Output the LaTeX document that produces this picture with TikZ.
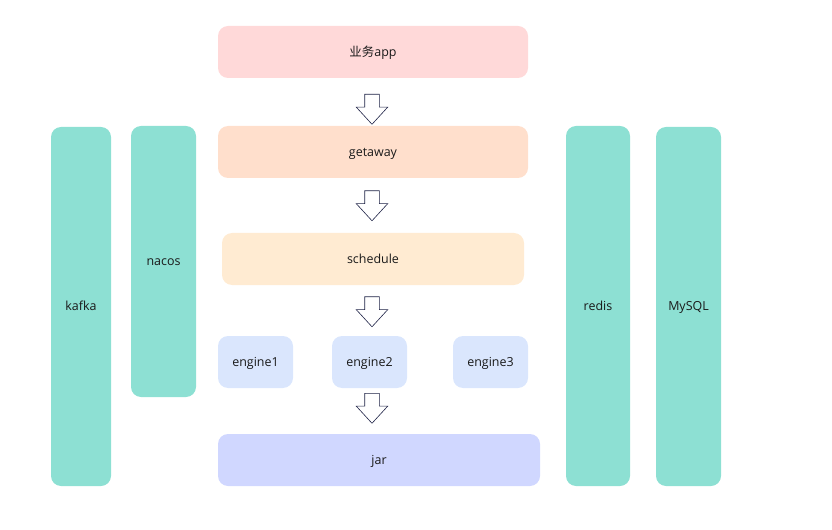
\documentclass[tikz,border=0pt]{standalone}
\usepackage{fontspec}
\setmainfont{Open Sans}
\newfontfamily\cjk{Noto Sans CJK SC}
\usepackage{tikz}
\usetikzlibrary{shapes.arrows}
\definecolor{apppink}{HTML}{FFD9D9}
\definecolor{gatepeach}{HTML}{FFDFCC}
\definecolor{schedcream}{HTML}{FFEBD2}
\definecolor{engineblue}{HTML}{DAE6FD}
\definecolor{jarblue}{HTML}{D0D7FF}
\definecolor{infrateal}{HTML}{8DE0D3}
\definecolor{arrowline}{HTML}{1E2246}
\definecolor{labeltext}{HTML}{1A1A1A}
\tikzset{
  box/.style={rounded corners=10bp, inner sep=0pt, text=labeltext,
    font=\fontsize{12.5}{14}\selectfont, text height=1.6ex, text depth=0pt},
  infra/.style={box, fill=infrateal, minimum width=#1},
  down/.style={single arrow, draw=arrowline, fill=white, line width=0.6pt,
    shape border rotate=270, inner sep=7bp, minimum width=31bp,
    minimum height=30bp, single arrow head extend=8.5bp,
    single arrow tip angle=85, anchor=tail},
}
\begin{document}
\begin{tikzpicture}[x=1bp, y=-1bp]
            \useasboundingbox (0, 0) rectangle (832, 530);
            % main chain
            \node[box, fill=apppink, minimum width=310bp, minimum height=52bp] (app) at (373, 52) {{\cjk 业务}app};
            \node[box, fill=gatepeach, minimum width=310bp, minimum height=52bp] (gate) at (373, 152) {getaway};
            \node[box, fill=schedcream, minimum width=302bp, minimum height=52bp] (sched) at (373, 259) {schedule};
            \node[box, fill=engineblue, minimum width=75bp, minimum height=52bp] (eng1) at (255.5, 362) {engine1};
            \node[box, fill=engineblue, minimum width=75bp, minimum height=52bp] (eng2) at (369.5, 362) {engine2};
            \node[box, fill=engineblue, minimum width=75bp, minimum height=52bp] (eng3) at (490.5, 362) {engine3};
            \node[box, fill=jarblue, minimum width=322bp, minimum height=52bp] (jar) at (379, 460) {jar};
            % side columns
            \node[infra=60bp, minimum height=359bp] (kafka) at (81, 306.5) {kafka};
            \node[infra=65bp, minimum height=271bp] (nacos) at (163.5, 261.5) {nacos};
            \node[infra=64bp, minimum height=360bp] (redis) at (598, 306) {redis};
            \node[infra=65bp, minimum height=359bp] (mysql) at (688.5, 306.5) {MySQL};
            % block arrows
            \node[down] (a1) at (372, 94) {};
            \node[down] (a2) at (372, 190.5) {};
            \node[down] (a3) at (372, 296.5) {};
            \node[down] (a4) at (372, 393) {};
\end{tikzpicture}
\end{document}
